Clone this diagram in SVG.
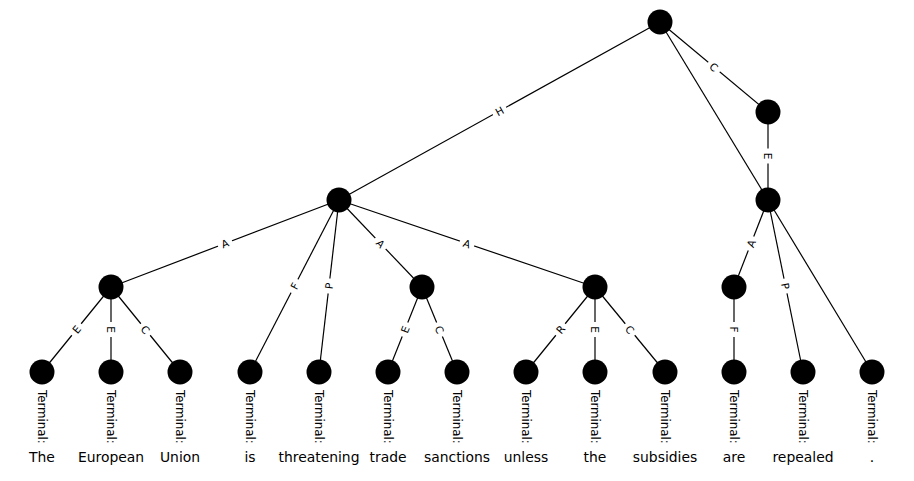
<svg xmlns="http://www.w3.org/2000/svg" width="914" height="481" viewBox="0 0 914 481">
<style>
.e{stroke:#000;stroke-width:1.2;fill:none}
.bx{fill:#fff;stroke:none}
.lb text{font-family:"DejaVu Sans",sans-serif;font-size:10.5px;fill:#000;text-anchor:middle;dominant-baseline:central}
.n{fill:#000}
.t{font-family:"DejaVu Sans",sans-serif;font-size:11.8px;fill:#000;dominant-baseline:central}
.w{font-family:"DejaVu Sans",sans-serif;font-size:13.9px;fill:#000;text-anchor:middle}
</style>
<defs>
<rect id="bx" class="bx" x="-7.5" y="-7" width="15" height="14" rx="3"/>
</defs>
<rect width="914" height="481" fill="#fff"/>
<g id="connectors">
<line class="e" x1="660" y1="22" x2="339" y2="200"/>
<line class="e" x1="660" y1="22" x2="768" y2="112"/>
<line class="e" x1="660" y1="22" x2="768" y2="200"/>
<line class="e" x1="768" y1="112" x2="768" y2="200"/>
<line class="e" x1="339" y1="200" x2="111" y2="287"/>
<line class="e" x1="339" y1="200" x2="250" y2="372"/>
<line class="e" x1="339" y1="200" x2="319" y2="372"/>
<line class="e" x1="339" y1="200" x2="422" y2="287"/>
<line class="e" x1="339" y1="200" x2="595" y2="287"/>
<line class="e" x1="111" y1="287" x2="42" y2="372"/>
<line class="e" x1="111" y1="287" x2="111" y2="372"/>
<line class="e" x1="111" y1="287" x2="180" y2="372"/>
<line class="e" x1="422" y1="287" x2="388" y2="372"/>
<line class="e" x1="422" y1="287" x2="457" y2="372"/>
<line class="e" x1="595" y1="287" x2="526" y2="372"/>
<line class="e" x1="595" y1="287" x2="595" y2="372"/>
<line class="e" x1="595" y1="287" x2="665" y2="372"/>
<line class="e" x1="768" y1="200" x2="734" y2="287"/>
<line class="e" x1="768" y1="200" x2="803" y2="372"/>
<line class="e" x1="768" y1="200" x2="872" y2="372"/>
<line class="e" x1="734" y1="287" x2="734" y2="372"/>
<g class="lb" transform="translate(499.5,111) rotate(-29)"><use href="#bx"/><text>H</text></g>
<g class="lb" transform="translate(714,67) rotate(39.8)"><use href="#bx"/><text>C</text></g>
<g class="lb" transform="translate(768,156) rotate(90)"><use href="#bx"/><text>E</text></g>
<g class="lb" transform="translate(225,243.5) rotate(-20.9)"><use href="#bx"/><text>A</text></g>
<g class="lb" transform="translate(294.5,286) rotate(-62.6)"><use href="#bx"/><text>F</text></g>
<g class="lb" transform="translate(329,286) rotate(-83.4)"><use href="#bx"/><text>P</text></g>
<g class="lb" transform="translate(380.5,243.5) rotate(46.3)"><use href="#bx"/><text>A</text></g>
<g class="lb" transform="translate(467,243.5) rotate(18.8)"><use href="#bx"/><text>A</text></g>
<g class="lb" transform="translate(76.5,329.5) rotate(-50.9)"><use href="#bx"/><text>E</text></g>
<g class="lb" transform="translate(111,329.5) rotate(90)"><use href="#bx"/><text>E</text></g>
<g class="lb" transform="translate(145.5,329.5) rotate(50.9)"><use href="#bx"/><text>C</text></g>
<g class="lb" transform="translate(405,329.5) rotate(-68.2)"><use href="#bx"/><text>E</text></g>
<g class="lb" transform="translate(439.5,329.5) rotate(67.6)"><use href="#bx"/><text>C</text></g>
<g class="lb" transform="translate(560.5,329.5) rotate(-50.9)"><use href="#bx"/><text>R</text></g>
<g class="lb" transform="translate(595,329.5) rotate(90)"><use href="#bx"/><text>E</text></g>
<g class="lb" transform="translate(630,329.5) rotate(50.5)"><use href="#bx"/><text>C</text></g>
<g class="lb" transform="translate(751,243.5) rotate(-68.7)"><use href="#bx"/><text>A</text></g>
<g class="lb" transform="translate(785.5,286) rotate(78.5)"><use href="#bx"/><text>P</text></g>
<g class="lb" transform="translate(734,329.5) rotate(90)"><use href="#bx"/><text>F</text></g>
</g>
<g id="n-root"><circle class="n" cx="660" cy="22" r="12.5"/></g>
<g id="n-c"><circle class="n" cx="768" cy="112" r="12.5"/></g>
<g id="n-e"><circle class="n" cx="768" cy="200" r="12.5"/></g>
<g id="n-h"><circle class="n" cx="339" cy="200" r="12.5"/></g>
<g id="n-a1"><circle class="n" cx="111" cy="287" r="12.5"/></g>
<g id="n-a2"><circle class="n" cx="422" cy="287" r="12.5"/></g>
<g id="n-a3"><circle class="n" cx="595" cy="287" r="12.5"/></g>
<g id="n-a4"><circle class="n" cx="734" cy="287" r="12.5"/></g>
<g id="t1"><circle class="n" cx="42" cy="372" r="12.5"/><text class="t" transform="translate(42,390) rotate(90)">Terminal:</text><text class="w" x="42" y="462">The</text></g>
<g id="t2"><circle class="n" cx="111" cy="372" r="12.5"/><text class="t" transform="translate(111,390) rotate(90)">Terminal:</text><text class="w" x="111" y="462">European</text></g>
<g id="t3"><circle class="n" cx="180" cy="372" r="12.5"/><text class="t" transform="translate(180,390) rotate(90)">Terminal:</text><text class="w" x="180" y="462">Union</text></g>
<g id="t4"><circle class="n" cx="250" cy="372" r="12.5"/><text class="t" transform="translate(250,390) rotate(90)">Terminal:</text><text class="w" x="250" y="462">is</text></g>
<g id="t5"><circle class="n" cx="319" cy="372" r="12.5"/><text class="t" transform="translate(319,390) rotate(90)">Terminal:</text><text class="w" x="319" y="462">threatening</text></g>
<g id="t6"><circle class="n" cx="388" cy="372" r="12.5"/><text class="t" transform="translate(388,390) rotate(90)">Terminal:</text><text class="w" x="388" y="462">trade</text></g>
<g id="t7"><circle class="n" cx="457" cy="372" r="12.5"/><text class="t" transform="translate(457,390) rotate(90)">Terminal:</text><text class="w" x="457" y="462">sanctions</text></g>
<g id="t8"><circle class="n" cx="526" cy="372" r="12.5"/><text class="t" transform="translate(526,390) rotate(90)">Terminal:</text><text class="w" x="526" y="462">unless</text></g>
<g id="t9"><circle class="n" cx="595" cy="372" r="12.5"/><text class="t" transform="translate(595,390) rotate(90)">Terminal:</text><text class="w" x="595" y="462">the</text></g>
<g id="t10"><circle class="n" cx="665" cy="372" r="12.5"/><text class="t" transform="translate(665,390) rotate(90)">Terminal:</text><text class="w" x="665" y="462">subsidies</text></g>
<g id="t11"><circle class="n" cx="734" cy="372" r="12.5"/><text class="t" transform="translate(734,390) rotate(90)">Terminal:</text><text class="w" x="734" y="462">are</text></g>
<g id="t12"><circle class="n" cx="803" cy="372" r="12.5"/><text class="t" transform="translate(803,390) rotate(90)">Terminal:</text><text class="w" x="803" y="462">repealed</text></g>
<g id="t13"><circle class="n" cx="872" cy="372" r="12.5"/><text class="t" transform="translate(872,390) rotate(90)">Terminal:</text><text class="w" x="872" y="462">.</text></g>
</svg>
